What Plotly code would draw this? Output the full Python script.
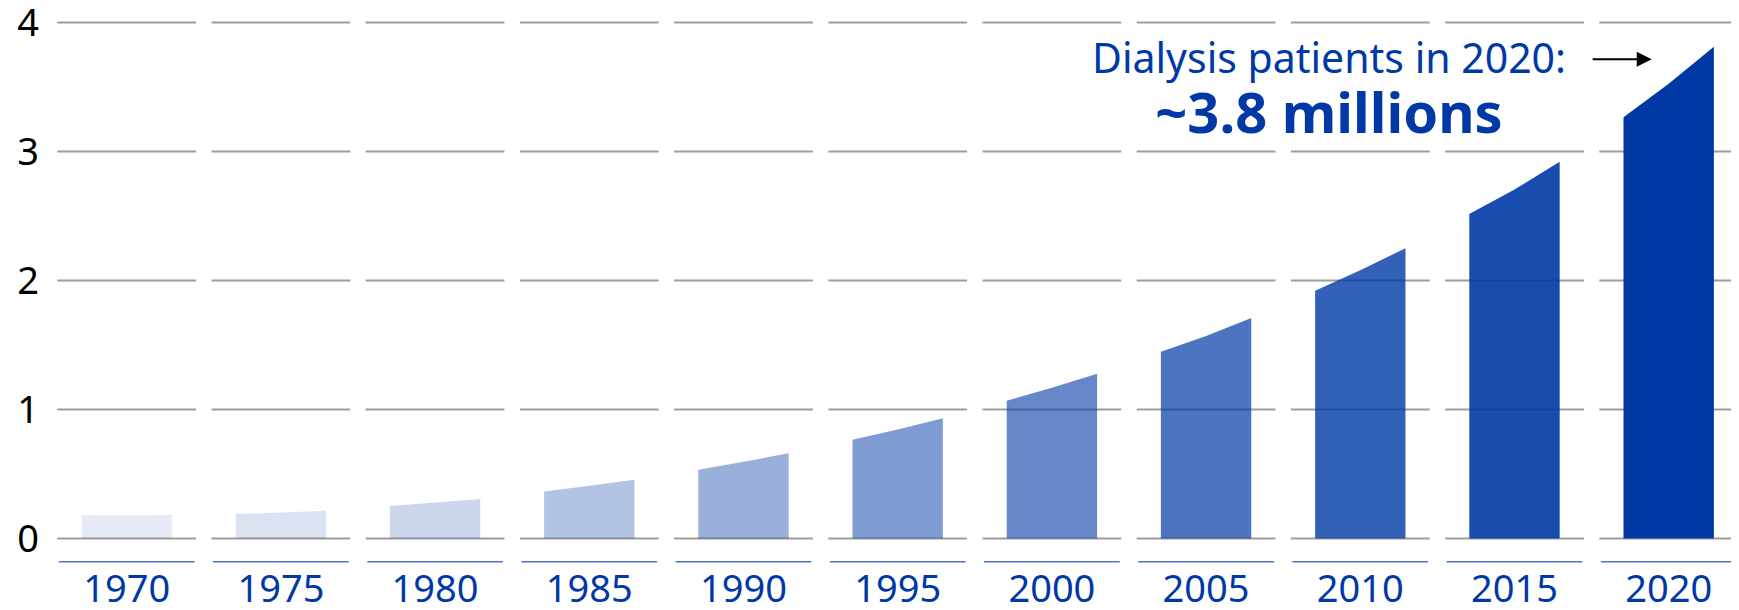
import plotly.graph_objects as go

# ---- data ----
years = ["1970", "1975", "1980", "1985", "1990", "1995", "2000", "2005", "2010", "2015", "2020"]
start_vals = [0.183, 0.190, 0.252, 0.365, 0.534, 0.765, 1.068, 1.448, 1.921, 2.516, 3.265]
mid_vals = [0.180, 0.202, 0.280, 0.410, 0.595, 0.845, 1.168, 1.570, 2.080, 2.705, 3.525]
end_vals = [0.183, 0.216, 0.306, 0.455, 0.660, 0.933, 1.277, 1.709, 2.250, 2.921, 3.812]
opacities = [0.1, 0.14, 0.2, 0.3, 0.4, 0.5, 0.6, 0.7, 0.8, 0.9, 1.0]
y_ticks = [0, 1, 2, 3, 4]
note_line1 = "Dialysis patients in 2020:"
note_line2 = "~3.8 millions"

# ---- style ----
FONT = "Noto Sans"
BLUE = "rgb(0,57,166)"
GRID = "#9d9d9d"
UNDER = "#4d74c6"
HALF_SEG = 0.45   # half width of the per-category grid segments
HALF_BAR = 0.293  # half width of each area shape

fig = go.Figure()

# segmented gridlines
gx, gy = [], []
for t in y_ticks:
    for i in range(len(years)):
        gx += [i - HALF_SEG, i + HALF_SEG, None]
        gy += [t, t, None]
fig.add_trace(go.Scatter(x=gx, y=gy, mode="lines", line=dict(color=GRID, width=2),
                         hoverinfo="skip", showlegend=False))

# blue underline segments below the baseline
ux, uy = [], []
for i in range(len(years)):
    ux += [i - HALF_SEG + 0.01, i + HALF_SEG - 0.01, None]
    uy += [-0.18, -0.18, None]
fig.add_trace(go.Scatter(x=ux, y=uy, mode="lines", line=dict(color=UNDER, width=1.5),
                         hoverinfo="skip", showlegend=False))

# area shapes per period
for i, yr in enumerate(years):
    xs = [i - HALF_BAR, i - HALF_BAR, i, i + HALF_BAR, i + HALF_BAR, i - HALF_BAR]
    ys = [0, start_vals[i], mid_vals[i], end_vals[i], 0, 0]
    fig.add_trace(go.Scatter(
        x=xs, y=ys, mode="lines", fill="toself",
        fillcolor=f"rgba(0,57,166,{opacities[i]})",
        line=dict(width=0, color="rgba(0,0,0,0)"),
        name=yr, showlegend=False, hoverinfo="skip"))

# year labels
fig.add_trace(go.Scatter(
    x=list(range(len(years))), y=[-0.42] * len(years), mode="text", text=years,
    textfont=dict(family=FONT, size=38, color=BLUE), cliponaxis=False,
    hoverinfo="skip", showlegend=False))

# annotation text (two lines, one block)
fig.add_annotation(
    x=7.8, y=3.487, xref="x", yref="y",
    text=(f'<span style="font-size:41px">{note_line1}</span><br>'
          f'<span style="font-size:56px"><b>{note_line2}</b></span>'),
    showarrow=False, align="center",
    font=dict(family=FONT, size=46, color=BLUE), xanchor="center", yanchor="middle")
# arrow
fig.add_annotation(x=9.89, y=3.715, ax=9.497, ay=3.715, xref="x", yref="y",
                   axref="x", ayref="y", text="", showarrow=True,
                   arrowhead=2, arrowsize=1.5, arrowwidth=2, arrowcolor="black")

fig.update_xaxes(range=[-0.4974, 10.456], visible=False, fixedrange=True, automargin=False)
fig.update_yaxes(range=[-0.554, 4.112], tickvals=y_ticks, showgrid=False, zeroline=False,
                 showline=False, ticks="", ticklabelstandoff=10, ticklabeloverflow="allow",
                 automargin=False,
                 tickfont=dict(family=FONT, size=38, color="black"), fixedrange=True)
fig.update_layout(width=1731, height=602, margin=dict(l=42, r=0, t=0, b=0, autoexpand=False),
                  plot_bgcolor="white", paper_bgcolor="white", showlegend=False)

fig.write_html("out.html")
